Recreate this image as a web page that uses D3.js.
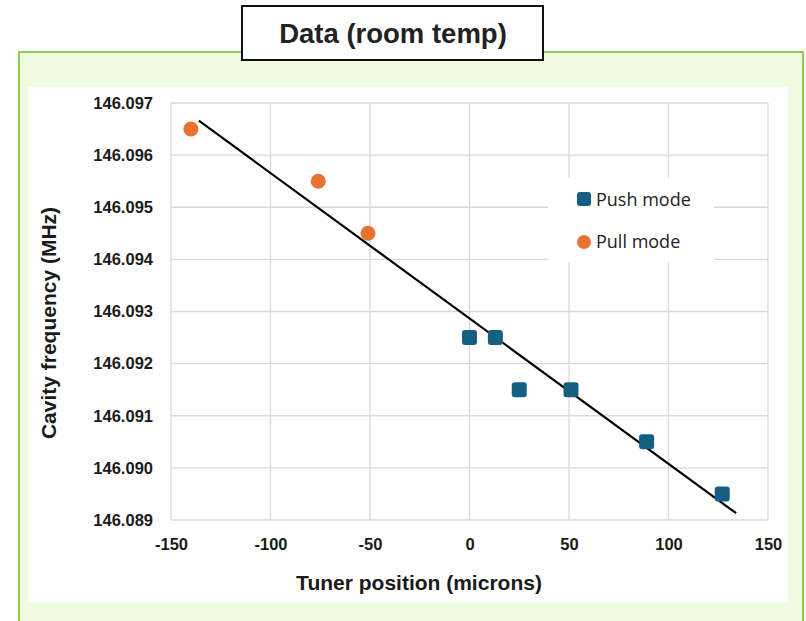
<!DOCTYPE html>
<html><head><meta charset="utf-8">
<script src="https://cdn.jsdelivr.net/npm/d3@7"></script>
<style>body{margin:0;background:#fff;}svg{display:block;}</style>
</head><body>
<svg id="c" width="806" height="621"></svg>
<script>
const pushX = [0, 13, 25, 51, 89, 127];
const pushY = [146.0925, 146.0925, 146.0915, 146.0915, 146.0905, 146.0895];
const pullX = [-140, -76, -51];
const pullY = [146.0965, 146.0955, 146.0945];
const trendX = [-136, 134];
const trendY = [146.09666, 146.08913];
const xTicks = [-150, -100, -50, 0, 50, 100, 150];
const yTicks = [146.089, 146.090, 146.091, 146.092, 146.093, 146.094, 146.095, 146.096, 146.097];
const seriesNames = ["Push mode", "Pull mode"];
const colors = ["#156082", "#e97132"];

const svg = d3.select("#c");
const FONT = "Liberation Sans, Arial, sans-serif";
// outer green panel
svg.append("rect").attr("x",19).attr("y",52).attr("width",784).attr("height",580)
  .attr("fill","#f0fcdf").attr("stroke","#8fcf4f").attr("stroke-width",2);
// white chart area
svg.append("rect").attr("x",28).attr("y",87).attr("width",760).attr("height",515).attr("fill","#fff");
// title box
svg.append("rect").attr("x",242).attr("y",6).attr("width",301).attr("height",54)
  .attr("fill","#fff").attr("stroke","#111").attr("stroke-width",2);
svg.append("text").attr("x",393).attr("y",43).attr("text-anchor","middle")
  .attr("font-family",FONT).attr("font-weight","bold")
  .attr("font-size",27.5).attr("fill","#222").text("Data (room temp)");

const x = d3.scaleLinear().domain([-150,150]).range([171,768]);
const y = d3.scaleLinear().domain([146.089,146.097]).range([520,103]);

const g = svg.append("g");
g.selectAll(".vg").data(xTicks).join("line")
  .attr("x1",d=>x(d)).attr("x2",d=>x(d)).attr("y1",y(146.097)).attr("y2",y(146.089))
  .attr("stroke","#d9d9d9").attr("stroke-width",1.3);
g.selectAll(".hg").data(yTicks).join("line")
  .attr("y1",d=>y(d)).attr("y2",d=>y(d)).attr("x1",x(-150)).attr("x2",x(150))
  .attr("stroke","#d9d9d9").attr("stroke-width",1.3);

const xAxis = d3.axisBottom(x).tickValues(xTicks).tickSize(0).tickPadding(18).tickFormat(d=>String(d));
const yAxis = d3.axisLeft(y).tickValues(yTicks).tickSize(0).tickPadding(18).tickFormat(d=>d.toFixed(3));
const ax = svg.append("g").attr("transform",`translate(0,${y(146.089)})`).call(xAxis);
const ay = svg.append("g").attr("transform",`translate(${x(-150)},0)`).call(yAxis);
[ax,ay].forEach(a=>{
  a.select(".domain").remove();
  a.selectAll("text").attr("font-family",FONT)
   .attr("font-weight","bold").attr("font-size",16.5).attr("fill","#1a1a1a");
});

// legend background
svg.append("rect").attr("x",548).attr("y",178).attr("width",166).attr("height",84).attr("fill","#fff");

// trendline
svg.append("line").attr("x1",x(trendX[0])).attr("y1",y(trendY[0]))
  .attr("x2",x(trendX[1])).attr("y2",y(trendY[1]))
  .attr("stroke","#000").attr("stroke-width",2.2);

svg.selectAll(".pull").data(pullX.map((v,i)=>[v,pullY[i]])).join("circle")
  .attr("cx",d=>x(d[0])).attr("cy",d=>y(d[1])).attr("r",7.5).attr("fill",colors[1]);
svg.selectAll(".push").data(pushX.map((v,i)=>[v,pushY[i]])).join("rect")
  .attr("x",d=>x(d[0])-7.5).attr("y",d=>y(d[1])-7.5).attr("width",15).attr("height",15)
  .attr("rx",3).attr("fill",colors[0]);

// legend
svg.append("rect").attr("x",577).attr("y",192).attr("width",14).attr("height",14).attr("rx",3).attr("fill",colors[0]);
svg.append("circle").attr("cx",584).attr("cy",242).attr("r",7).attr("fill",colors[1]);
svg.append("text").attr("x",596).attr("y",206).text(seriesNames[0])
  .attr("font-family","Open Sans, sans-serif").attr("font-size",18).attr("fill","#222");
svg.append("text").attr("x",596).attr("y",248).text(seriesNames[1])
  .attr("font-family","Open Sans, sans-serif").attr("font-size",18).attr("fill","#222");

// axis titles
svg.append("text").attr("x",419).attr("y",590).attr("text-anchor","middle")
  .attr("font-family",FONT).attr("font-weight","bold")
  .attr("font-size",21).attr("fill","#1a1a1a").text("Tuner position (microns)");
svg.append("text").attr("transform","translate(56,323) rotate(-90)").attr("text-anchor","middle")
  .attr("font-family",FONT).attr("font-weight","bold")
  .attr("font-size",21).attr("fill","#1a1a1a").text("Cavity frequency (MHz)");
</script>
</body></html>
